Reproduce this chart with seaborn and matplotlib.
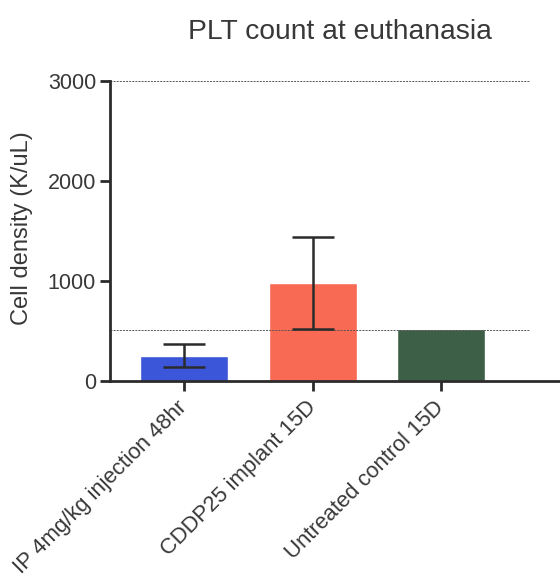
import matplotlib
matplotlib.use("Agg")
import matplotlib.pyplot as plt
import matplotlib.transforms as mtransforms
import seaborn as sns

# Platelet counts at euthanasia (mean ± SD per group; control has no spread shown)
groups = ["IP 4mg/kg injection 48hr", "CDDP25 implant 15D", "Untreated control 15D"]
means = [255, 980, 525]
sds = [115, 460, 0]
bar_colors = ["#3b56d9", "#f96a55", "#3d5f48"]
yticks = [0, 1000, 2000, 3000]
ref_lines = [3000, 515]

sns.set_theme(style="white")
plt.rcParams["font.family"] = ["Liberation Sans", "DejaVu Sans"]
text_color = "#383838"
axis_color = "#2b2b2b"

fig = plt.figure(figsize=(5.6, 5.78), dpi=100)
ax = fig.add_axes([110 / 560, 197 / 578, 450 / 560, 300 / 578])

sns.barplot(x=groups, y=means, hue=groups, palette=bar_colors, legend=False,
            errorbar=None, width=0.685, saturation=1, ax=ax)

# error bars only where a spread exists
idx = [i for i, s in enumerate(sds) if s > 0]
ax.errorbar(idx, [means[i] for i in idx], yerr=[sds[i] for i in idx],
            fmt="none", ecolor=axis_color, elinewidth=1.8, capsize=15,
            capthick=1.8, zorder=3)

for y in ref_lines:
    ax.axhline(y, xmin=0, xmax=0.93, color="#555555", lw=0.7,
               linestyle=(0, (2, 1.2)), zorder=1)

ax.set_xlim(-0.576, 2.926)
ax.set_ylim(0, 3000)
ax.set_yticks(yticks)
ax.set_yticklabels([str(t) for t in yticks], fontsize=15.5, color=text_color)
ax.set_xticks(range(len(groups)))
ax.set_xticklabels(groups, rotation=45, ha="right", va="center",
                   rotation_mode="anchor", fontsize=15.8, color=text_color)
shift = mtransforms.ScaledTranslation(3 / 100, 0, fig.dpi_scale_trans)
for lbl in ax.get_xticklabels():
    lbl.set_transform(lbl.get_transform() + shift)
ax.set_xlabel("")
ax.set_ylabel("")

for side in ["top", "right"]:
    ax.spines[side].set_visible(False)
for side in ["left", "bottom"]:
    ax.spines[side].set_color(axis_color)
    ax.spines[side].set_linewidth(2)
ax.tick_params(axis="both", direction="out", length=7, width=2, color=axis_color,
               pad=3, left=True, bottom=True)
ax.tick_params(axis="x", pad=10)

fig.text(22 / 560, 1 - 228 / 578, "Cell density (K/uL)", rotation=90,
         ha="center", va="center", fontsize=17, color=text_color)
fig.text(340 / 560, 1 - 32 / 578, "PLT count at euthanasia",
         ha="center", va="center", fontsize=20.3, color=text_color)

fig.savefig("out.png", dpi=100, facecolor="white")
